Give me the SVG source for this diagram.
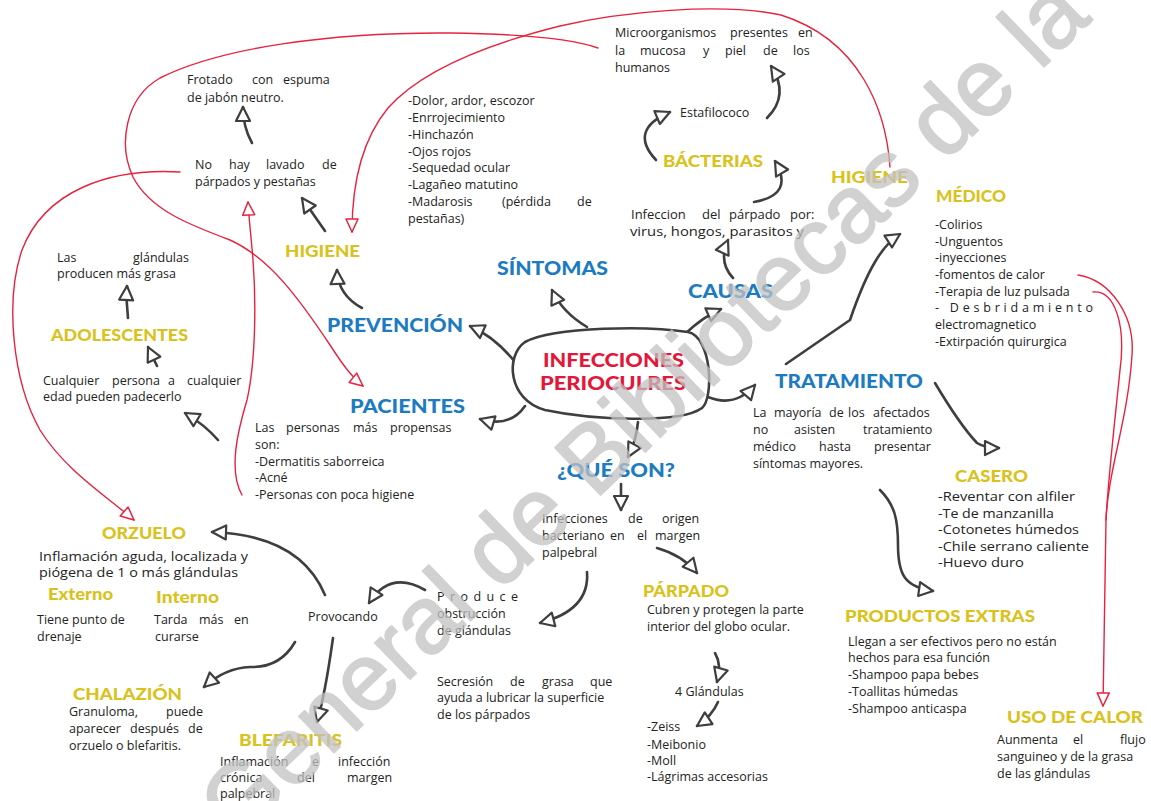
<svg xmlns="http://www.w3.org/2000/svg" width="1151" height="801" viewBox="0 0 1151 801">
<style>
.t{font-family:"Open Sans",Lato,sans-serif;font-size:12.5px;fill:#232323}
.hw{font-family:"Open Sans",Lato,sans-serif;font-size:13px;fill:#232323}
.b{font-family:Lato,"Open Sans",sans-serif;font-weight:900;font-size:18px;fill:#1d7bc1}
.y{font-family:Lato,"Open Sans",sans-serif;font-weight:900;font-size:16.5px;fill:#d9c21c}
.r{font-family:Lato,"Open Sans",sans-serif;font-weight:900;font-size:18px;fill:#e3173a}
.c{fill:none;stroke:#3e3e3e;stroke-width:2.6;stroke-linecap:round;stroke-linejoin:round}
.cr{fill:none;stroke:#e8223f;stroke-width:1.4;stroke-linecap:round}
.wm{font-family:"Liberation Sans",Arial,sans-serif;font-size:95px;fill:#c2c2c2;stroke:#c2c2c2;stroke-width:2;stroke-linejoin:round;opacity:.75}
</style>
<defs>
<marker id="ab" markerUnits="userSpaceOnUse" markerWidth="20" markerHeight="20" viewBox="-2 -2 20 20" refX="15" refY="8" orient="auto"><path d="M1,1 L15,8 L1,15 Z" fill="#fff" stroke="#3e3e3e" stroke-width="2.2" stroke-linejoin="round"/></marker>
<marker id="ar" markerUnits="userSpaceOnUse" markerWidth="18" markerHeight="18" viewBox="-2 -2 18 18" refX="14" refY="7" orient="auto"><path d="M1,1 L14,7 L1,13 Z" fill="#fff" stroke="#e8223f" stroke-width="1.5" stroke-linejoin="round"/></marker>
</defs>
<rect width="1151" height="801" fill="#fff"/>
<g id="connectors">
<path class="c" marker-end="url(#ab)" d="M587,327 Q562,312 552,290"/>
<path class="c" marker-end="url(#ab)" d="M515,362 Q495,337 470,326"/>
<path class="c" marker-end="url(#ab)" d="M686,333 Q703,317 721,309"/>
<path class="c" marker-end="url(#ab)" d="M708,397 Q735,408 755,385"/>
<path class="c" marker-end="url(#ab)" d="M525,406 Q510,428 480,419"/>
<path class="c" marker-end="url(#ab)" d="M638,422 Q636,442 628,457"/>
<path class="c" marker-end="url(#ab)" d="M621,484 L621,510"/>
<path class="c" marker-end="url(#ab)" d="M657,548 Q682,555 697,573"/>
<path class="c" marker-end="url(#ab)" d="M587,572 Q590,610 540,623"/>
<path class="c" marker-end="url(#ab)" d="M425,590 Q390,570 369,603"/>
<path class="c" marker-end="url(#ab)" d="M325,595 Q300,535 212,532"/>
<path class="c" marker-end="url(#ab)" d="M295,642 Q280,668 250,667 Q225,668 204,687"/>
<path class="c" marker-end="url(#ab)" d="M333,638 Q325,695 317,722"/>
<path class="c" marker-end="url(#ab)" d="M715,653 Q722,665 717,682"/>
<path class="c" marker-end="url(#ab)" d="M718,702 Q712,716 697,726"/>
<path class="c" marker-end="url(#ab)" d="M218,440 Q205,425 185,413"/>
<path class="c" marker-end="url(#ab)" d="M157,366 L148,347"/>
<path class="c" marker-end="url(#ab)" d="M128,318 Q126,302 127,286"/>
<path class="c" marker-end="url(#ab)" d="M362,308 Q338,295 337,270"/>
<path class="c" marker-end="url(#ab)" d="M325,231 L302,198"/>
<path class="c" marker-end="url(#ab)" d="M252,143 Q243,127 243,107"/>
<path class="c" marker-end="url(#ab)" d="M656,160 Q628,130 670,112"/>
<path class="c" marker-end="url(#ab)" d="M767,118 Q790,95 771,66"/>
<path class="c" marker-end="url(#ab)" d="M754,202 Q795,195 775,161"/>
<path class="c" marker-end="url(#ab)" d="M733,278 Q718,262 728,240"/>
<path class="c" marker-end="url(#ab)" d="M786,364 L850,320 Q863,282 875,262 Q886,243 900,234"/>
<path class="c" marker-end="url(#ab)" d="M935,383 Q960,425 977,443 Q985,448 999,448"/>
<path class="c" marker-end="url(#ab)" d="M880,490 C895,505 898,520 898,545 C898,575 905,587 933,591"/>
<path class="cr" marker-end="url(#ar)" d="M890,167 C886,110 860,40 781,15 C720,2 620,12 560,26 C480,46 420,72 388,108 C360,142 352,190 352,232"/>
<path class="cr" marker-end="url(#ar)" d="M598,48 C570,38 520,34 450,33 C330,32 220,48 160,78 C125,98 118,145 133,177 C150,210 190,225 230,240 C270,258 300,300 330,345 C345,368 352,377 363,386"/>
<path class="cr" marker-end="url(#ar)" d="M180,172 C110,168 45,190 22,250 C5,300 12,380 40,430 C65,470 105,495 134,520"/>
<path class="cr" marker-end="url(#ar)" d="M242,495 C228,470 238,430 247,400 C256,360 256,300 253,260 C251,235 249,220 248,202"/>
<path class="cr" marker-end="url(#ar)" d="M1078,275 C1110,280 1135,315 1132,355 C1128,420 1108,470 1106,520 L1103,706"/>
<path class="cr" d="M1093,292 C1115,290 1126,325 1120,370 C1115,420 1108,480 1106,520"/>
</g>
<g id="center">
<path d="M525,342 C555,326 650,326 688,332 C712,337 714,398 702,408 C680,424 592,420 545,410 C508,400 505,356 525,342 Z" fill="#fff" stroke="#3e3e3e" stroke-width="2.6"/>
<text class="r" x="543" y="367" textLength="141" lengthAdjust="spacingAndGlyphs">INFECCIONES</text>
<text class="r" x="540" y="390" textLength="146" lengthAdjust="spacingAndGlyphs">PERIOCULRES</text>
</g>
<g id="frotado"><text class="t" y="84"><tspan x="187">Frotado</tspan><tspan x="252">con</tspan><tspan x="283">espuma</tspan></text><text class="t" x="187" y="102">de jabón neutro.</text></g>
<g id="nolavado"><text class="t" y="169"><tspan x="195">No</tspan><tspan x="229">hay</tspan><tspan x="266">lavado</tspan><tspan x="322">de</tspan></text><text class="t" x="195" y="186">párpados y pestañas</text></g>
<g id="higiene1"><text class="y" x="285" y="257" textLength="75" lengthAdjust="spacingAndGlyphs">HIGIENE</text></g>
<g id="prevencion"><text class="b" x="327" y="332" textLength="136" lengthAdjust="spacingAndGlyphs">PREVENCIÓN</text></g>
<g id="sintomas"><text class="b" x="497" y="275" textLength="111" lengthAdjust="spacingAndGlyphs">SÍNTOMAS</text></g>
<g id="sintomas-list">
<text class="t" x="408" y="105">-Dolor, ardor, escozor</text>
<text class="t" x="408" y="122">-Enrrojecimiento</text>
<text class="t" x="408" y="139">-Hinchazón</text>
<text class="t" x="408" y="156">-Ojos rojos</text>
<text class="t" x="408" y="172">-Sequedad ocular</text>
<text class="t" x="408" y="189">-Lagañeo matutino</text>
<text class="t" y="206"><tspan x="408">-Madarosis</tspan><tspan x="502">(pérdida</tspan><tspan x="577">de</tspan></text>
<text class="t" x="408" y="223">pestañas)</text>
</g>
<g id="micro"><text class="t" y="37"><tspan x="615">Microorganismos</tspan><tspan x="730">presentes</tspan><tspan x="798">en</tspan></text><text class="t" y="55"><tspan x="615">la</tspan><tspan x="640">mucosa</tspan><tspan x="703">y</tspan><tspan x="725">piel</tspan><tspan x="763">de</tspan><tspan x="793">los</tspan></text><text class="t" x="615" y="72">humanos</text></g>
<g id="estafilococo"><text class="t" x="680" y="117">Estafilococo</text></g>
<g id="bacterias"><text class="y" x="663" y="167" textLength="100" lengthAdjust="spacingAndGlyphs">BÁCTERIAS</text></g>
<g id="infeccion"><text class="hw" y="219"><tspan x="631">Infeccion</tspan><tspan x="702">del</tspan><tspan x="729">párpado</tspan><tspan x="790">por:</tspan></text><text class="hw" x="630" y="236" textLength="174" lengthAdjust="spacingAndGlyphs">virus, hongos, parasitos y</text></g>
<g id="causas"><text class="b" x="688" y="298" textLength="85" lengthAdjust="spacingAndGlyphs">CAUSAS</text></g>
<g id="higiene2"><text class="y" x="831" y="183" textLength="77" lengthAdjust="spacingAndGlyphs">HIGIENE</text></g>
<g id="medico"><text class="y" x="936" y="202" textLength="70" lengthAdjust="spacingAndGlyphs">MÉDICO</text></g>
<g id="medico-list">
<text class="t" x="935" y="229">-Colirios</text>
<text class="t" x="935" y="246">-Unguentos</text>
<text class="t" x="935" y="262">-inyecciones</text>
<text class="t" x="935" y="279">-fomentos de calor</text>
<text class="t" x="935" y="296">-Terapia de luz pulsada</text>
<text class="t" x="935" y="312" textLength="158" lengthAdjust="spacing">- Desbridamiento</text>
<text class="t" x="935" y="329">electromagnetico</text>
<text class="t" x="935" y="346">-Extirpación quirurgica</text>
</g>
<g id="tratamiento"><text class="b" x="775" y="388" textLength="148" lengthAdjust="spacingAndGlyphs">TRATAMIENTO</text></g>
<g id="trat-body">
<text class="t" y="417"><tspan x="753">La</tspan><tspan x="774">mayoría</tspan><tspan x="829">de</tspan><tspan x="848">los</tspan><tspan x="873">afectados</tspan></text>
<text class="t" y="434"><tspan x="753">no</tspan><tspan x="794">asisten</tspan><tspan x="863">tratamiento</tspan></text>
<text class="t" y="451"><tspan x="753">médico</tspan><tspan x="819">hasta</tspan><tspan x="874">presentar</tspan></text>
<text class="t" x="753" y="468">síntomas mayores.</text>
</g>
<g id="casero"><text class="y" x="955" y="482" textLength="73" lengthAdjust="spacingAndGlyphs">CASERO</text></g>
<g id="casero-list">
<text class="hw" x="938" y="501" textLength="137" lengthAdjust="spacingAndGlyphs">-Reventar con alfiler</text>
<text class="hw" x="938" y="518" textLength="116" lengthAdjust="spacingAndGlyphs">-Te de manzanilla</text>
<text class="hw" x="938" y="534" textLength="141" lengthAdjust="spacingAndGlyphs">-Cotonetes húmedos</text>
<text class="hw" x="938" y="551" textLength="151" lengthAdjust="spacingAndGlyphs">-Chile serrano caliente</text>
<text class="hw" x="938" y="567" textLength="86" lengthAdjust="spacingAndGlyphs">-Huevo duro</text>
</g>
<g id="productos"><text class="y" x="845" y="622" textLength="190" lengthAdjust="spacingAndGlyphs">PRODUCTOS EXTRAS</text></g>
<g id="productos-body">
<text class="t" x="848" y="646">Llegan a ser efectivos pero no están</text>
<text class="t" x="848" y="662">hechos para esa función</text>
<text class="t" x="848" y="679">-Shampoo papa bebes</text>
<text class="t" x="848" y="696">-Toallitas húmedas</text>
<text class="t" x="848" y="713">-Shampoo anticaspa</text>
</g>
<g id="uso"><text class="y" x="1007" y="723" textLength="136" lengthAdjust="spacingAndGlyphs">USO DE CALOR</text></g>
<g id="uso-body"><text class="t" y="744"><tspan x="997">Aunmenta</tspan><tspan x="1073">el</tspan><tspan x="1120">flujo</tspan></text><text class="t" x="997" y="761">sanguineo y de la grasa</text><text class="t" x="997" y="778">de las glándulas</text></g>
<g id="queson"><text class="b" x="557" y="477" textLength="118" lengthAdjust="spacingAndGlyphs">¿QUÉ SON?</text></g>
<g id="queson-body"><text class="t" y="523"><tspan x="542">Infecciones</tspan><tspan x="628">de</tspan><tspan x="662">origen</tspan></text><text class="t" y="540"><tspan x="542">bacteriano</tspan><tspan x="610">en</tspan><tspan x="637">el</tspan><tspan x="655">margen</tspan></text><text class="t" x="542" y="557">palpebral</text></g>
<g id="parpado"><text class="y" x="643" y="597" textLength="86" lengthAdjust="spacingAndGlyphs">PÁRPADO</text></g>
<g id="parpado-body"><text class="t" x="647" y="614">Cubren y protegen la parte</text><text class="t" x="647" y="631">interior del globo ocular.</text></g>
<g id="glandulas4"><text class="t" x="675" y="696">4 Glándulas</text></g>
<g id="glandulas-list">
<text class="t" x="647" y="731">-Zeiss</text>
<text class="t" x="647" y="749">-Meibonio</text>
<text class="t" x="647" y="765">-Moll</text>
<text class="t" x="647" y="781">-Lágrimas accesorias</text>
</g>
<g id="produce"><text class="t" x="437" y="601" textLength="81" lengthAdjust="spacing">Produce</text><text class="t" x="437" y="618">obstrucción</text><text class="t" x="437" y="635">de glándulas</text></g>
<g id="secresion"><text class="t" y="686"><tspan x="437">Secresión</tspan><tspan x="510">de</tspan><tspan x="542">grasa</tspan><tspan x="590">que</tspan></text><text class="t" x="437" y="702">ayuda a lubricar la superficie</text><text class="t" x="437" y="719">de los párpados</text></g>
<g id="provocando"><text class="t" x="308" y="621">Provocando</text></g>
<g id="orzuelo"><text class="y" x="102" y="539" textLength="84" lengthAdjust="spacingAndGlyphs">ORZUELO</text></g>
<g id="orzuelo-body"><text class="hw" x="39" y="561" textLength="209" lengthAdjust="spacingAndGlyphs">Inflamación aguda, localizada y</text><text class="hw" x="39" y="577" textLength="199" lengthAdjust="spacingAndGlyphs">piógena de 1 o más glándulas</text></g>
<g id="externo"><text class="y" x="48" y="600" textLength="65" lengthAdjust="spacingAndGlyphs">Externo</text><text class="t" x="37" y="624">Tiene punto de</text><text class="t" x="37" y="641">drenaje</text></g>
<g id="interno"><text class="y" x="156" y="603" textLength="63" lengthAdjust="spacingAndGlyphs">Interno</text><text class="t" y="624"><tspan x="154">Tarda</tspan><tspan x="199">más</tspan><tspan x="234">en</tspan></text><text class="t" x="155" y="641">curarse</text></g>
<g id="chalazion"><text class="y" x="73" y="700" textLength="109" lengthAdjust="spacingAndGlyphs">CHALAZIÓN</text></g>
<g id="chalazion-body"><text class="t" y="716"><tspan x="69">Granuloma,</tspan><tspan x="166">puede</tspan></text><text class="t" y="733"><tspan x="69">aparecer</tspan><tspan x="130">después</tspan><tspan x="188">de</tspan></text><text class="t" x="69" y="750">orzuelo o blefaritis.</text></g>
<g id="blefaritis"><text class="y" x="239" y="746" textLength="103" lengthAdjust="spacingAndGlyphs">BLEFARITIS</text></g>
<g id="blefaritis-body"><text class="t" y="766"><tspan x="220">Inflamación</tspan><tspan x="312">e</tspan><tspan x="338">infección</tspan></text><text class="t" y="782"><tspan x="220">crónica</tspan><tspan x="297">del</tspan><tspan x="347">margen</tspan></text><text class="t" x="220" y="798">palpebral</text></g>
<g id="pacientes"><text class="b" x="350" y="413" textLength="115" lengthAdjust="spacingAndGlyphs">PACIENTES</text></g>
<g id="pacientes-body">
<text class="t" y="432"><tspan x="255">Las</tspan><tspan x="286">personas</tspan><tspan x="353">más</tspan><tspan x="390">propensas</tspan></text>
<text class="t" x="255" y="449">son:</text>
<text class="t" x="255" y="466">-Dermatitis saborreica</text>
<text class="t" x="255" y="482">-Acné</text>
<text class="t" x="255" y="499">-Personas con poca higiene</text>
</g>
<g id="cualquier"><text class="t" y="385"><tspan x="43">Cualquier</tspan><tspan x="112">persona</tspan><tspan x="168">a</tspan><tspan x="187">cualquier</tspan></text><text class="t" x="43" y="401">edad pueden padecerlo</text></g>
<g id="adolescentes"><text class="y" x="51" y="341" textLength="137" lengthAdjust="spacingAndGlyphs">ADOLESCENTES</text></g>
<g id="grasa"><text class="t" y="262"><tspan x="57">Las</tspan><tspan x="133">glándulas</tspan></text><text class="t" x="57" y="278">producen más grasa</text></g>
<text class="wm" x="238" y="845" transform="rotate(-44 238 845)">General de Bibliotecas de la</text>
</svg>
